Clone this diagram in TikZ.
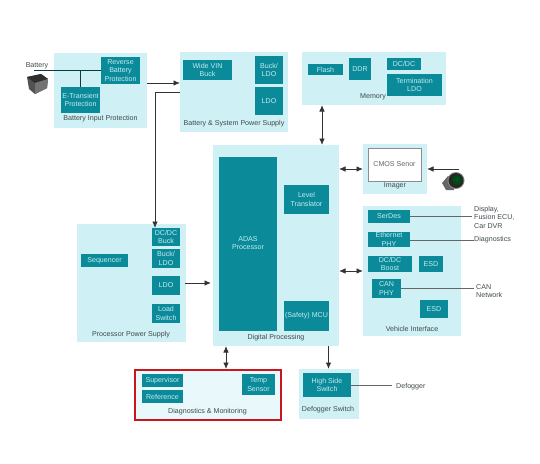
\documentclass[tikz,border=0pt]{standalone}
\usepackage{fontspec}
\setmainfont{Liberation Sans}
\usetikzlibrary{arrows.meta,calc}
\definecolor{panel}{HTML}{CFF0F4}
\definecolor{teal}{HTML}{0B8A9A}
\definecolor{tealtxt}{HTML}{C4ECF0}
\definecolor{lab}{HTML}{3F4A4C}
\definecolor{redbox}{HTML}{C8161D}
\newcommand{\pbox}[6][]{\node[panelbox,#1,minimum width={(#4)-(#3)},minimum height={(#6)-(#5)}] (#2) at ({((#3)+(#4))/2},{((#5)+(#6))/2}) {};}
\newcommand{\tbox}[7][]{\node[tealbox,#1,minimum width={(#4)-(#3)},minimum height={(#6)-(#5)}] (#2) at ({((#3)+(#4))/2},{((#5)+(#6))/2}) {#7};}
\tikzset{
  panelbox/.style={fill=panel,draw=none,inner sep=0pt,outer sep=0pt},
  tealbox/.style={fill=teal,draw=none,inner sep=0pt,outer sep=0pt,text=tealtxt,font=\fontsize{7.1}{8.4}\selectfont,align=center},
  caption/.style={text=lab,font=\fontsize{7.1}{8.4}\selectfont,inner sep=0pt,align=left},
  thinline/.style={draw=black!80,line width=.9pt},
  oneway/.style={thinline,-{Latex[length=6.5pt,width=5.5pt]}},
  twoway/.style={thinline,{Latex[length=6.5pt,width=5.5pt]}-{Latex[length=6.5pt,width=5.5pt]}},
  plainline/.style={draw=black!60,line width=.7pt},
  wire/.style={draw=teal!45!black,line width=.9pt}
}
\begin{document}
\begin{tikzpicture}[x=1pt,y=-1pt]
\useasboundingbox (0,0) rectangle (540,463);
% panels
\pbox{bip}{54}{147}{53}{128}
\pbox{bsp}{180}{288}{52}{132}
\pbox{mem}{302}{446}{52}{105}
\pbox{dig}{213}{339}{145}{346}
\pbox{img}{363}{427}{144}{194}
\pbox{veh}{363}{461}{206}{336}
\pbox{pps}{77}{186}{224}{342}
\pbox{dfs}{299}{359}{369}{419}
\node[draw=redbox,fill=panel!45,line width=2pt,inner sep=0pt,minimum width=146pt,minimum height=50pt] (dia) at (207.5,395) {};
% teal blocks
\tbox{rev}{101}{140}{57}{84}{Reverse\\Battery\\Protection}
\tbox{etr}{61}{100}{87}{113}{E-Transient\\Protection}
\tbox{wid}{183}{232}{60}{80}{Wide VIN\\Buck}
\tbox{bl1}{255}{283}{56}{84}{Buck/\\LDO}
\tbox{ld1}{255}{283}{87}{115}{LDO}
\tbox{fla}{308}{343}{64}{75}{Flash}
\tbox{ddr}{349}{371}{58}{80}{DDR}
\tbox{dcd}{387}{421}{58}{70}{DC/DC}
\tbox{ter}{387}{442}{74}{96}{Termination\\LDO}
\tbox{ada}{219}{277}{157}{331}{}
\node[text=tealtxt,font=\fontsize{7.1}{8.4}\selectfont,align=center,inner sep=0pt] (adat) at (248,243) {ADAS\\Processor};
\tbox{lev}{284}{329}{185}{214}{Level\\Translator}
\tbox{mcu}{284}{329}{301}{331}{(Safety) MCU}
\tbox{ser}{368}{410}{210}{223}{SerDes}
\tbox{eth}{368}{410}{232}{247}{Ethernet\\PHY}
\tbox{bst}{368}{412}{256}{272}{DC/DC\\Boost}
\tbox{es1}{419}{443}{256}{272}{ESD}
\tbox{can}{372}{401}{279}{298}{CAN\\PHY}
\tbox{es2}{420}{448}{300}{318}{ESD}
\tbox{dcb}{152}{180}{228}{246}{DC/DC\\Buck}
\tbox{bl2}{152}{180}{249}{268}{Buck/\\LDO}
\tbox{ld2}{152}{180}{276}{295}{LDO}
\tbox{lds}{152}{180}{304}{323}{Load\\Switch}
\tbox{seq}{81}{128}{254}{267}{Sequencer}
\tbox{sup}{142}{183}{374}{387}{Supervisor}
\tbox{ref}{142}{183}{390}{403}{Reference}
\tbox{tmp}{242}{275}{374}{395}{Temp\\Sensor}
\tbox{hss}{303}{351}{373}{397}{High Side\\Switch}
\node[draw=black!45,fill=white,line width=.7pt,text=black!60,font=\fontsize{7.1}{8.4}\selectfont,inner sep=0pt,minimum width=53pt,minimum height=33pt] (cmos) at (394.5,164.5) {CMOS Senor};
% panel captions
\node[caption] (c1) at (100.5,119) {Battery Input Protection};
\node[caption] (c2) at (234,124) {Battery \& System Power Supply};
\node[caption] (c3) at (373,97) {Memory};
\node[caption] (c4) at (276,338) {Digital Processing};
\node[caption] (c5) at (395,185.5) {Imager};
\node[caption] (c6) at (412,329) {Vehicle Interface};
\node[caption] (c7) at (131,335) {Processor Power Supply};
\node[caption] (c8) at (207.5,412) {Diagnostics \& Monitoring};
\node[caption] (c9) at (328,410) {Defogger Switch};
% outer labels
\node[caption] (lbat) at (37,66) {Battery};
\node[caption,anchor=north west] (ldis) at (474,206) {Display,\\Fusion ECU,\\Car DVR};
\node[caption,anchor=west] (ldia) at (474,240) {Diagnostics};
\node[caption,anchor=west] (lcan) at (476,291) {CAN\\Network};
\node[caption,anchor=west] (ldef) at (396,387) {Defogger};
% free ends
\coordinate (batin) at (34,70);
\coordinate (cam) at (459,169);
% connectors
\draw[wire] (batin) -- (rev.west |- batin);
\draw[wire] (etr.north |- batin) -- (etr.north);
\draw[oneway] (147,83) -- (bsp.west |- 0,83);
\draw[oneway] (bsp.west |- 0,92) -- (155,92) -- (155,0 |- dcb.north);
\draw[twoway] (322,0 |- mem.south) -- (322,0 |- dig.north);
\draw[twoway] (dig.east |- 0,169) -- (img.west |- 0,169);
\draw[oneway] (cam) -- (img.east |- cam);
\draw[twoway] (dig.east |- 0,271) -- (veh.west |- 0,271);
\draw[oneway] (ld2.east |- 0,283) ++(5,0) -- (211,283);
\draw[twoway] (226,0 |- dig.south) -- (226,0 |- dia.north);
\draw[oneway] (328.5,0 |- dig.south) -- (328.5,0 |- dfs.north);
\draw[plainline] (ser.east) -- (472,0 |- ser.east);
\draw[plainline] (eth.east |- 0,240) -- (ldia.west);
\draw[plainline] (can.east |- 0,288) -- (474,288);
\draw[plainline] (hss.east) -- (392,0 |- hss.east);
% battery icon
\fill[black!68] (27,77) -- (41,74) -- (48,79) -- (47,88) -- (35,94) -- (29,89) -- cycle;
\fill[black!82] (27,77) -- (41,74) -- (48,79) -- (35,83) -- cycle;
\fill[black!55] (35,83) -- (48,79) -- (47,88) -- (35,94) -- cycle;
% camera icon
\fill[black!60] (442,183) -- (448,176) -- (456,178) -- (454,190) -- (446,190) -- cycle;
\fill[black!45] (456,180.5) circle (8.5pt);
\fill[black!85] (456,180.5) circle (7.5pt);
\fill[green!30!black] (457,180) circle (5pt);
\fill[teal!50!black] (457.5,179.5) circle (2.5pt);
\end{tikzpicture}
\end{document}
